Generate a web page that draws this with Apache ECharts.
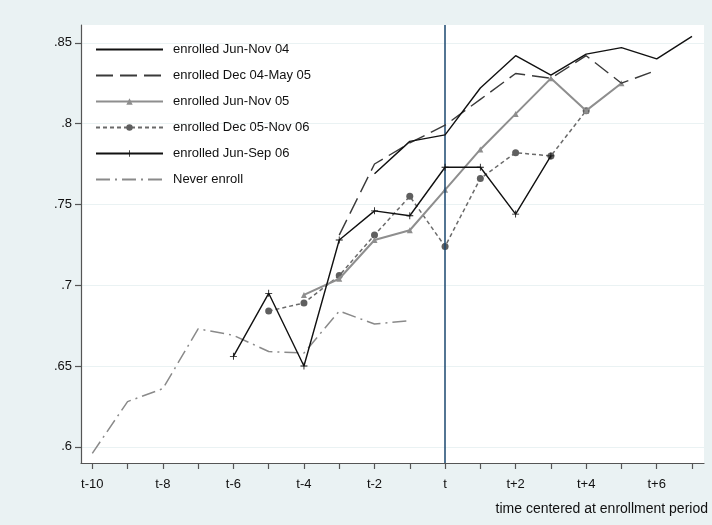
<!DOCTYPE html>
<html>
<head>
<meta charset="utf-8">
<script src="https://cdn.jsdelivr.net/npm/echarts@6/dist/echarts.min.js"></script>
<style>
html,body{margin:0;padding:0;background:#eaf2f3;}
#c{width:712px;height:525px;}
</style>
</head>
<body>
<div id="c"></div>
<script>
// periods relative to enrollment (0 = t)
const periods = [-10,-9,-8,-7,-6,-5,-4,-3,-2,-1,0,1,2,3,4,5,6,7];
const xTickValues = [-10,-9,-8,-7,-6,-5,-4,-3,-2,-1,0,1,2,3,4,5,6,7];
const xLabelValues = [-10,-8,-6,-4,-2,0,2,4,6];
const yTickValues = [0.6,0.65,0.7,0.75,0.8,0.85];
const yTickLabels = ['.6','.65','.7','.75','.8','.85'];

const seriesNames = ['enrolled Jun-Nov 04','enrolled Dec 04-May 05','enrolled Jun-Nov 05','enrolled Dec 05-Nov 06','enrolled Jun-Sep 06','Never enroll'];

// values aligned to periods (null = no observation)
const junNov04  = [null,null,null,null,null,null,null,null,0.769,0.789,0.793,0.822,0.842,0.830,0.843,0.847,0.840,0.854];
const dec04May05= [null,null,null,null,null,null,null,0.731,0.775,0.788,0.799,0.815,0.831,0.828,0.842,0.825,0.833,null];
const junNov05  = [null,null,null,null,null,null,0.694,0.704,0.728,0.734,0.759,0.784,0.806,0.828,0.808,0.825,null,null];
const dec05Nov06= [null,null,null,null,null,0.684,0.689,0.706,0.731,0.755,0.724,0.766,0.782,0.780,0.808,null,null,null];
const junSep06  = [null,null,null,null,0.656,0.695,0.650,0.728,0.746,0.743,0.773,0.773,0.744,0.780,null,null,null,null];
const neverEnroll=[0.596,0.628,0.636,0.673,0.669,0.659,0.658,0.684,0.676,0.678,null,null,null,null,null,null,null,null];

function pairs(vals){ return periods.map((p,i)=>[p, vals[i]]).filter(d=>d[1]!==null); }

const plusPath = 'path://M-0.12,-1h0.24v0.88h0.88v0.24h-0.88v0.88h-0.24v-0.88h-0.88v-0.24h0.88z';

const chart = echarts.init(document.getElementById('c'), null, {renderer:'canvas'});
const FONT = 'Liberation Sans, Arial, Helvetica, sans-serif';
const noMarker = new Set([0,1,5]);

chart.setOption({
  backgroundColor:'#eaf2f3',
  animation:false,
  textStyle:{fontFamily:FONT},
  title:{
    text:'time centered at enrollment period',
    right:4, bottom:9, padding:0,
    textStyle:{fontSize:14, fontWeight:'normal', color:'#111', fontFamily:FONT}
  },
  grid:{left:81,right:8,top:25,bottom:62,show:true,backgroundColor:'#ffffff',borderWidth:0},
  legend:{
    orient:'vertical', left:95, top:43, padding:0,
    itemWidth:67, itemHeight:8, itemGap:13,
    textStyle:{fontSize:13, color:'#111', fontFamily:FONT, padding:[0,0,0,5]},
    data:seriesNames.map((n,i)=> noMarker.has(i) ? {name:n, itemStyle:{opacity:0}} : {name:n})
  },
  xAxis:{
    type:'value', min:-10.32, max:7.34,
    axisLine:{show:true, onZero:false, lineStyle:{color:'#555', width:1.2}},
    axisTick:{show:true, length:6, customValues:xTickValues, lineStyle:{color:'#555', width:1.2}},
    axisLabel:{customValues:xLabelValues, fontSize:13, color:'#111', margin:15,
      formatter:v=> v===0 ? 't' : (v>0 ? 't+'+v : 't'+v)},
    splitLine:{show:false}
  },
  yAxis:{
    type:'value', min:0.59, max:0.861,
    axisLine:{show:true, onZero:false, lineStyle:{color:'#555', width:1.2}},
    axisTick:{show:true, length:6, customValues:yTickValues, lineStyle:{color:'#555', width:1.2}},
    axisLabel:{customValues:yTickValues, fontSize:13, color:'#111', margin:9,
      formatter:v=>{ const i=yTickValues.findIndex(t=>Math.abs(t-v)<1e-6); return i>=0?yTickLabels[i]:''; }},
    splitLine:{show:true, lineStyle:{color:'#eaf2f3', width:1.2}}
  },
  series:[
    {name:seriesNames[0], type:'line', data:pairs(junNov04), symbol:'none',
     lineStyle:{color:'#111', width:1.4}, itemStyle:{color:'#111'}, z:6,
     markLine:{silent:true, symbol:'none', label:{show:false},
       lineStyle:{color:'#1a476f', width:1.5, type:'solid'}, data:[{xAxis:0}]}},
    {name:seriesNames[1], type:'line', data:pairs(dec04May05), symbol:'none',
     lineStyle:{color:'#3a3a3a', width:1.4, type:[17,7]}, itemStyle:{color:'#3a3a3a'}, z:5},
    {name:seriesNames[2], type:'line', data:pairs(junNov05), symbol:'triangle', symbolSize:6, showSymbol:true,
     lineStyle:{color:'#8e8e8e', width:2}, itemStyle:{color:'#8e8e8e'}, z:4},
    {name:seriesNames[3], type:'line', data:pairs(dec05Nov06), symbol:'circle', symbolSize:7,
     lineStyle:{color:'#6a6a6a', width:1.5, type:[4,3]}, itemStyle:{color:'#5f5f5f'}, z:3},
    {name:seriesNames[4], type:'line', data:pairs(junSep06), symbol:plusPath, symbolSize:7,
     lineStyle:{color:'#111', width:1.4}, itemStyle:{color:'#111'}, z:7},
    {name:seriesNames[5], type:'line', data:pairs(neverEnroll), symbol:'none',
     lineStyle:{color:'#8a8a8a', width:1.5, type:[14,5,2,5]}, itemStyle:{color:'#8a8a8a'}, z:2}
  ]
});
</script>
</body>
</html>
